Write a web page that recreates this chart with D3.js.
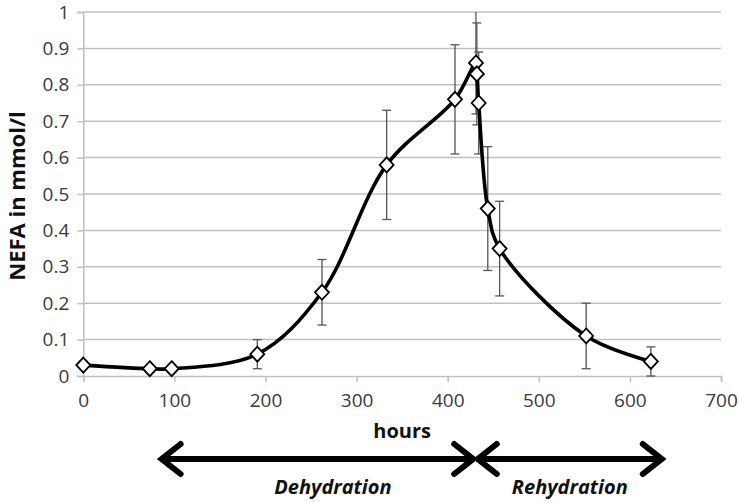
<!DOCTYPE html>
<html>
<head>
<meta charset="utf-8">
<script src="https://cdn.jsdelivr.net/npm/d3@7"></script>
<style>
  html, body { margin: 0; padding: 0; background: #fff; }
  svg { display: block; }
  text { font-family: "Open Sans", "Liberation Sans", sans-serif; }
</style>
</head>
<body>
<svg id="chart" width="739" height="503"></svg>
<script>
// Plasma NEFA over time (mean ± error) across dehydration and rehydration
const hours  = [0, 73, 97, 191, 262, 333, 408, 431, 432, 434, 444, 457, 552, 623];
const nefa   = [0.03, 0.02, 0.02, 0.06, 0.23, 0.58, 0.76, 0.86, 0.83, 0.75, 0.46, 0.35, 0.11, 0.04];
const errUp  = [0.01, 0.01, 0.01, 0.04, 0.09, 0.15, 0.15, 0.16, 0.14, 0.14, 0.17, 0.13, 0.09, 0.04];
const errLow = [0.01, 0.01, 0.01, 0.04, 0.09, 0.15, 0.15, 0.14, 0.14, 0.14, 0.17, 0.13, 0.09, 0.04];

const xTicks = [0, 100, 200, 300, 400, 500, 600, 700];
const yTicks = [0, 0.1, 0.2, 0.3, 0.4, 0.5, 0.6, 0.7, 0.8, 0.9, 1];
const yTickLabels = ["0", "0.1", "0.2", "0.3", "0.4", "0.5", "0.6", "0.7", "0.8", "0.9", "1"];

// Experimental phases shown as arrows under the axis (in hours)
const phaseNames = ["Dehydration", "Rehydration"];
const phaseStart = [86, 433];
const phaseEnd   = [428, 635];
const phaseLabelAt = [274, 534];

const svg = d3.select("#chart");
const plotL = 83.3, plotR = 721, plotT = 12, plotB = 376;

const x = d3.scaleLinear().domain([0, 700]).range([plotL, plotR]);
const y = d3.scaleLinear().domain([0, 1]).range([plotB, plotT]);

const gridColor = "#c0c0c0";
const textColor = "#3a3a3a";
const tickFont = "'Liberation Sans', Arial, sans-serif";

// Horizontal gridlines
svg.append("g")
  .selectAll("line")
  .data(yTicks.slice(1))
  .join("line")
  .attr("x1", plotL).attr("x2", plotR)
  .attr("y1", d => y(d)).attr("y2", d => y(d))
  .attr("stroke", gridColor).attr("stroke-width", 1.5);

// Y axis
const yAxis = svg.append("g")
  .attr("transform", `translate(${plotL},0)`)
  .call(d3.axisLeft(y).tickValues(yTicks)
    .tickFormat((d, i) => yTickLabels[i]).tickSize(6).tickPadding(8));
yAxis.select(".domain").attr("stroke", gridColor).attr("stroke-width", 1.5);
yAxis.selectAll(".tick line").attr("stroke", gridColor).attr("stroke-width", 1.5);
yAxis.selectAll("text")
  .attr("font-size", 19).attr("fill", textColor)
  .attr("font-family", tickFont);

// X axis
const xAxis = svg.append("g")
  .attr("transform", `translate(0,${plotB})`)
  .call(d3.axisBottom(x).tickValues(xTicks).tickSize(6).tickPadding(12));
xAxis.select(".domain").attr("stroke", gridColor).attr("stroke-width", 1.5);
xAxis.selectAll(".tick line").attr("stroke", gridColor).attr("stroke-width", 1.5);
xAxis.selectAll("text")
  .attr("font-size", 19).attr("fill", textColor)
  .attr("font-family", tickFont);

// Axis titles
svg.append("text")
  .attr("transform", `translate(25,196) rotate(-90)`)
  .attr("text-anchor", "middle")
  .attr("font-size", 22).attr("font-weight", "bold").attr("fill", "#111")
  .text("NEFA in mmol/l");

svg.append("text")
  .attr("x", x(350)).attr("y", 438)
  .attr("text-anchor", "middle")
  .attr("font-size", 20).attr("font-weight", "bold").attr("fill", "#111")
  .text("hours");

// Error bars
const pts = hours.map((h, i) => ({ h, v: nefa[i], up: errUp[i], low: errLow[i] }));
const eb = svg.append("g").attr("stroke", "#555").attr("stroke-width", 1.3).attr("fill", "none");
const capW = 4.5;
pts.forEach(p => {
  const hi = Math.min(p.v + p.up, 1), lo = Math.max(p.v - p.low, 0);
  const cx = x(p.h);
  eb.append("line").attr("x1", cx).attr("x2", cx).attr("y1", y(hi)).attr("y2", y(lo));
  if (p.v + p.up <= 1) {
    eb.append("line").attr("x1", cx - capW).attr("x2", cx + capW).attr("y1", y(hi)).attr("y2", y(hi));
  }
  if (p.v - p.low >= 0) {
    eb.append("line").attr("x1", cx - capW).attr("x2", cx + capW).attr("y1", y(lo)).attr("y2", y(lo));
  }
});

// Smoothed series line
const line = d3.line()
  .x(d => x(d.h)).y(d => y(d.v))
  .curve(d3.curveCatmullRom.alpha(0.5));
svg.append("path")
  .datum(pts)
  .attr("d", line)
  .attr("fill", "none").attr("stroke", "#000").attr("stroke-width", 3.6)
  .attr("stroke-linejoin", "round");

// Diamond markers
const dr = 7.5;
svg.append("g")
  .selectAll("path")
  .data(pts)
  .join("path")
  .attr("d", d => {
    const cx = x(d.h), cy = y(d.v);
    return `M${cx},${cy - dr}L${cx + dr - 0.5},${cy}L${cx},${cy + dr}L${cx - dr + 0.5},${cy}Z`;
  })
  .attr("fill", "#fff").attr("stroke", "#000").attr("stroke-width", 1.8);

// Phase arrows
const arrowY = 459, headL = 19, headH = 15;
const ag = svg.append("g").attr("stroke", "#000").attr("fill", "none")
  .attr("stroke-width", 6).attr("stroke-linecap", "round").attr("stroke-linejoin", "miter");
phaseNames.forEach((name, i) => {
  const x0 = x(phaseStart[i]), x1 = x(phaseEnd[i]);
  ag.append("line").attr("x1", x0 + 3).attr("x2", x1 - 3).attr("y1", arrowY).attr("y2", arrowY);
  ag.append("path").attr("d", `M${x0 + headL},${arrowY - headH}L${x0},${arrowY}L${x0 + headL},${arrowY + headH}`);
  ag.append("path").attr("d", `M${x1 - headL},${arrowY - headH}L${x1},${arrowY}L${x1 - headL},${arrowY + headH}`);
  svg.append("text")
    .attr("x", x(phaseLabelAt[i])).attr("y", 494)
    .attr("text-anchor", "middle")
    .attr("font-size", 20).attr("font-weight", "bold").attr("font-style", "italic")
    .attr("fill", "#111")
    .text(name);
});
</script>
</body>
</html>
